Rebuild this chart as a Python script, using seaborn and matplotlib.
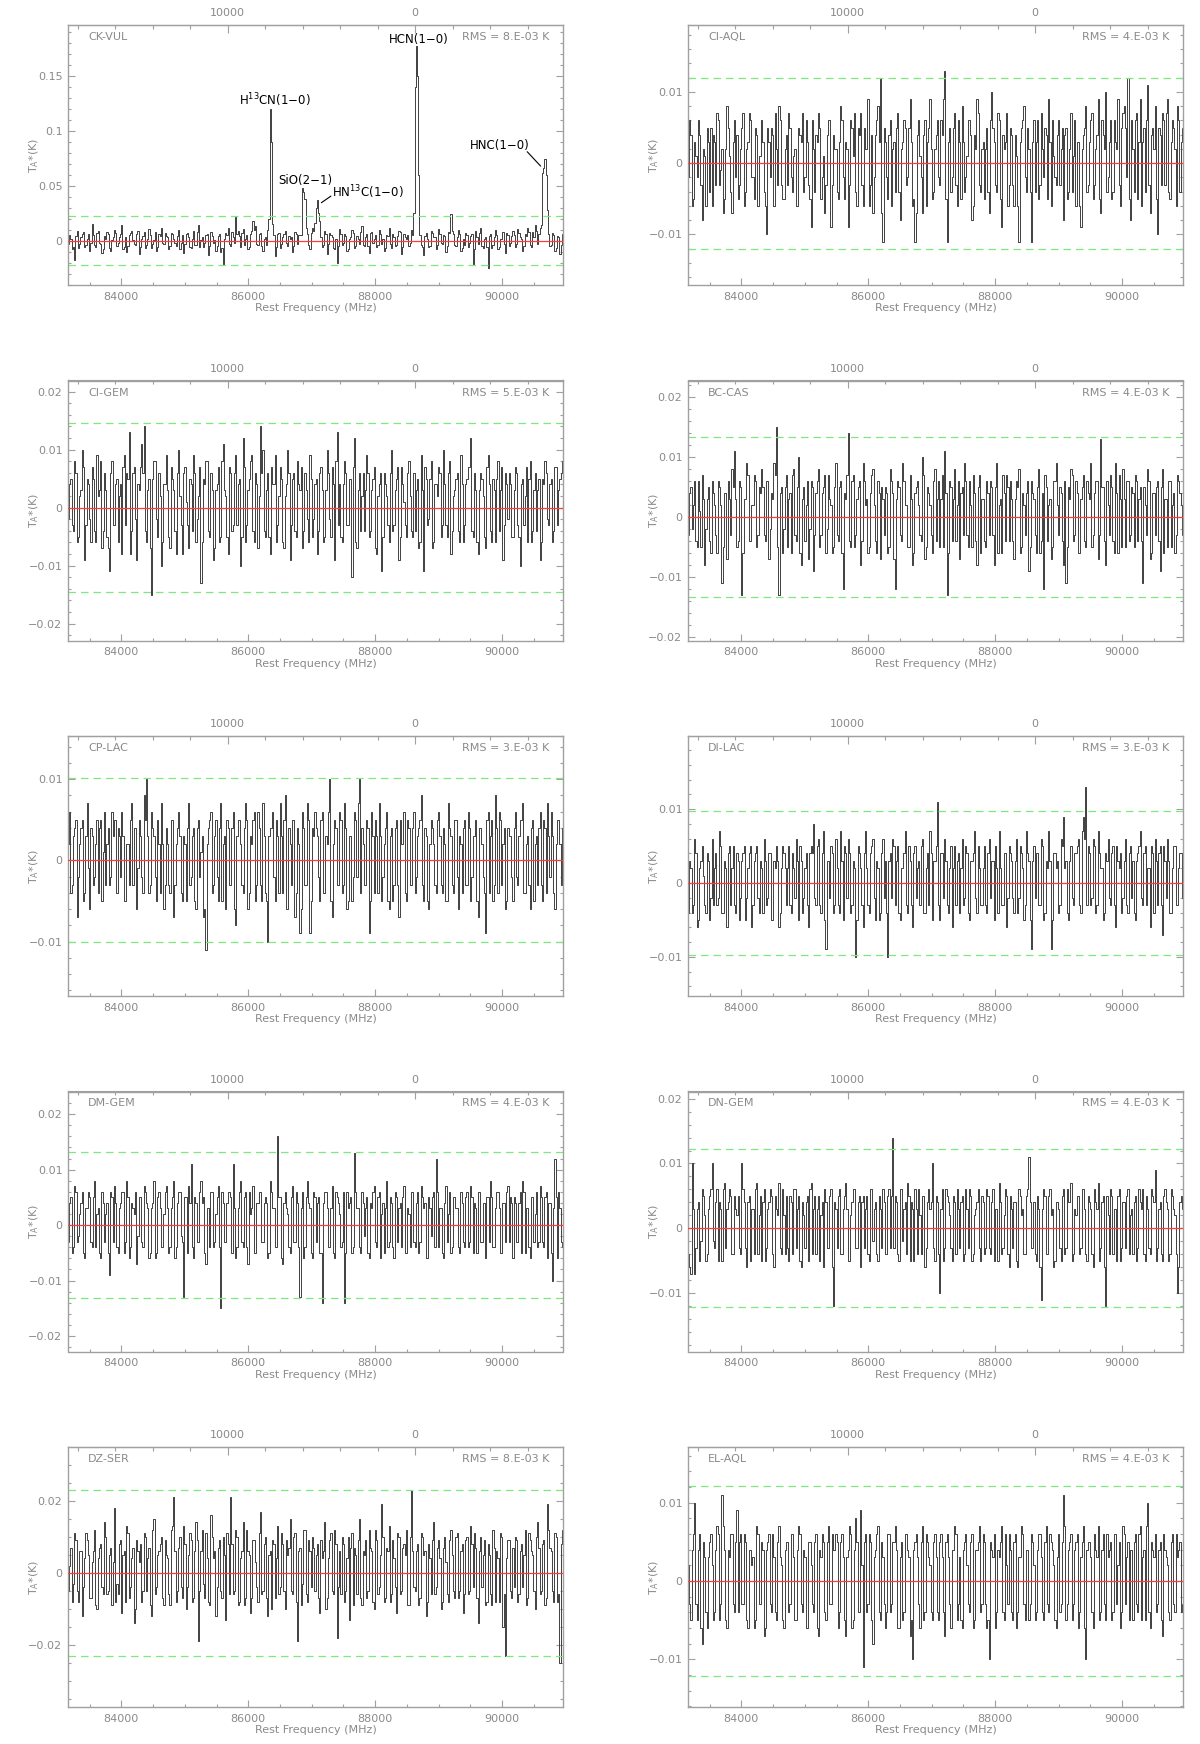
import numpy as np
import matplotlib
matplotlib.use("Agg")
import matplotlib.pyplot as plt
from matplotlib.ticker import MultipleLocator, FixedLocator, FuncFormatter
import seaborn as sns

# channel grid (MHz) and reference line for the velocity axis
F_START = 83170.0
CHAN_WIDTH = 19.5
F_HCN = 88631.6
C_KMS = 299792.458

# antenna temperature per channel, in mK, 20 channels per row
ck_vul_mk = [
    -3, 5, 2, -8, -6, -18, 4, 9, -7, -3, 3, 6, 8, -6, -4, 2, 6, -9, -2, 15,
    5, -4, -6, 7, 9, -2, -3, -11, -8, 4, 2, 8, 6, -7, -9, 1, 3, 10, 7, -5,
    -2, 3, 6, 14, -8, -6, 3, -10, -5, 5, 7, 9, 1, -3, -4, 6, 9, -12, -6, 2,
    4, 8, -7, -4, 2, 11, 5, -7, -3, 1, 8, -9, -6, 6, 4, 12, -2, -3, 7, 4,
    3, -8, -5, 7, 6, 2, -2, -5, 4, 10, -8, -2, 5, -11, -3, 6, 7, 3, -6, -7,
    2, 9, -4, -4, 8, 14, -6, 1, 3, -6, -2, 5, 6, -13, -5, 8, 4, -2, 1, -9,
    -5, 4, 6, -10, -7, -22, 2, 7, 5, 12, -3, -5, 8, 3, -2, 22, 6, 9, 4, -6,
    7, 11, -4, 2, 5, -8, -6, 6, 9, 18, 10, 13, -3, -4, 6, 7, -5, -9, 2, 3,
    -4, 10, 20, 120, 90, 15, 5, -14, -6, 6, 7, -7, -3, 3, 6, 9, -2, -5, 4, 2,
    3, -10, -5, 8, 6, -3, 5, 5, 5, 48, 44, 38, 12, 6, -4, -8, 7, 12, 9, 16,
    30, 37, 25, 18, 3, -6, -4, 9, 6, -12, -3, 7, 5, 3, -7, -8, 2, -20, -5, 11,
    6, -4, -2, 6, 4, -9, -8, 2, 3, 10, 7, -7, -5, 4, 2, -3, 8, 13, -4, -5,
    3, 6, -5, -11, 7, 8, -2, 2, 5, -6, -4, 10, 6, -3, 2, -9, -7, 5, 4, 12,
    -3, -7, 6, 3, -5, -4, 4, 9, 8, -12, -6, 6, 3, 2, 5, -5, -2, 10, 5, 25,
    140, 178, 150, 60, 5, -4, -6, -13, 4, 7, 2, -6, -5, 9, 7, 3, 3, -8, -4, 11,
    6, -2, -3, 5, 4, -10, -5, 8, 7, 24, 9, 6, -4, -5, 3, 10, 6, -9, -7, 2,
    -4, 7, 5, -6, -2, 4, 6, -22, -8, 9, 3, -3, 7, 12, -5, -7, 2, 3, -6, -25,
    4, 6, -7, -4, 3, 10, 5, -8, -6, 2, 2, 8, -3, -11, 7, 5, -5, -2, 4, 9,
    5, -6, -3, 11, 7, 3, 2, -9, -5, 6, 4, 12, 8, -4, -6, 8, 3, 14, 9, -3,
    6, 12, 14, 62, 66, 75, 60, 28, 6, -5, -4, 7, 5, -9, -7, 4, 3, -12, -4, 6]

ci_aql_mk = [
    -2, 6, 4, -6, -5, 3, 1, -2, 6, 4, -3, -8, 2, 1, -6, 5, 3, -4, 5, -6,
    4, 3, -3, 7, 6, -3, -1, 2, -7, -5, 2, 8, 5, 1, -4, -7, 3, 6, -2, 4,
    -5, -3, 2, 5, 7, -6, -4, 2, 3, 7, 6, -2, -2, -5, 5, 4, -6, 1, 1, 6,
    3, -4, -6, -10, 5, 3, -2, 5, 4, -6, 7, 2, -3, 8, 6, -3, -5, -5, 2, 4,
    -3, 7, 5, -2, -4, 1, 2, -6, -6, 5, 4, 3, 7, -4, -2, 6, 3, -3, -5, -9,
    6, 2, -4, 4, 3, 7, 5, -5, -2, 1, -7, -3, 4, 6, 6, -9, -3, 4, 2, 2,
    -4, -5, 3, 8, 6, -2, -5, 3, 2, -9, -3, 6, 5, 1, 7, -4, -6, 5, 4, 7,
    -3, -6, 5, 2, 2, 9, -6, -3, 4, -7, -2, 4, 6, 8, 3, 12, -7, -11, 5, 3,
    -2, -5, 4, 6, -6, 2, 3, -4, 5, 7, -4, -8, 2, 3, 6, 5, -3, -2, 5, 9,
    3, -6, -5, -11, -7, 4, 6, 1, -2, -7, 4, 6, -6, 3, 5, 9, 2, -5, -4, 2,
    4, 6, -2, -3, 6, 4, 9, 13, -5, -11, 3, 5, -4, -2, 5, 7, -3, -6, 6, 3,
    -5, 8, 3, -4, -2, 1, 6, 6, 4, -8, -6, 4, 2, 9, 7, -3, -4, 2, 3, -5,
    2, 5, -4, -7, 6, 10, 5, 3, -3, -4, 7, 6, -5, -9, 4, 2, 3, 7, -6, -3,
    5, 4, -3, -6, 4, 1, -6, -11, 3, 5, 6, 8, -2, -4, 5, 2, -4, -11, 3, 6,
    -4, 3, 6, -5, -3, 7, 2, -2, 5, 4, -5, 9, 3, -6, 6, 1, -2, -3, 4, 6,
    -3, 2, 5, -8, 4, 5, -5, -4, 2, 7, -4, 1, 6, -6, 3, 3, -6, -9, 2, 4,
    5, 8, -4, -3, 3, 6, 7, -5, -3, 2, 4, 9, -5, -7, 6, 4, 2, 10, -4, -2,
    3, 6, -5, -4, 6, 3, 2, 9, -3, -6, 5, 7, 8, 5, -2, 12, -5, -8, 6, 2,
    -4, 6, 7, -5, 3, 9, -6, 3, 5, -4, 6, 11, -3, -7, 4, 5, 2, 8, -5, -10,
    5, 4, -3, 7, 6, -3, 7, 9, -4, -5, 3, 6, 5, 2, -6, 8, 6, -4, 3, 5]

ci_gem_mk = [
    -2, 4, 5, -3, -4, 8, 6, -6, -5, 2, 3, 10, 7, -9, -3, 5, 4, -2, -6, 7,
    5, -4, -6, 9, 2, 3, 8, -7, -4, 6, 3, -5, -7, -11, 6, 8, -3, -3, 4, 5,
    -6, 2, 4, -8, 7, 9, -3, 6, 5, 13, -8, -4, 6, 7, -2, -9, 4, 3, 7, 11,
    6, 14, -4, -6, 3, 5, -7, -15, 5, 8, 8, -2, -5, 6, 2, -10, -6, 4, 4, 9,
    3, -5, -7, 7, 5, 3, -4, -8, 6, 10, 2, -3, -8, 6, 7, 1, -3, -7, 5, 4,
    -4, 9, 6, -6, -2, 2, 7, -13, -6, 5, 4, 8, 8, -4, -5, 6, 3, -9, -7, 3,
    4, 7, -6, -5, 8, 11, 3, 2, -5, -8, 7, 6, -4, -3, 6, 9, -3, 4, 5, -10,
    -5, 12, 7, -6, -3, 3, 5, 8, 9, -4, -6, 6, 4, -7, 2, 14, 6, 10, -4, -5,
    3, 6, -5, -8, 7, 4, 4, 9, -6, -3, 2, 7, 5, -6, -7, 2, 4, 10, 6, -9,
    -3, 5, 6, -4, -5, 8, 4, 3, 7, -7, -4, 6, 3, -2, -6, 9, 5, -5, -2, 4,
    5, -8, -4, 6, 7, 3, -6, -5, 3, 10, 6, -2, -5, 7, 4, -9, 8, 13, -3, 4,
    -5, -6, 4, 8, 6, -3, -3, 5, 5, -12, 7, 12, -6, -7, 3, 6, -4, 2, 6, -4,
    3, 9, 6, -5, -4, 3, 5, 7, -7, -8, 2, 4, 6, -11, -5, 6, 4, 2, -3, -6,
    6, 10, -4, -3, 3, 5, 7, -9, -5, 7, 4, 1, -3, -5, 6, 8, 2, -4, -5, 6,
    -4, 3, 5, -7, -6, 9, 3, -11, 7, 5, -3, -2, 5, 8, -7, -6, 4, 4, 2, 7,
    6, -5, -3, 10, 4, -3, -5, 6, 8, -8, -4, 2, 3, 5, 6, -4, -6, 9, 4, -6,
    -3, 4, 5, 7, 7, 12, -4, -5, 6, 3, -6, -8, 3, 6, 5, 2, -5, -7, 7, 9,
    4, -4, -6, 5, 3, -6, 5, 8, -4, 3, 7, -9, -3, 6, 4, -2, 6, 4, -5, -5,
    3, 7, 6, -3, -5, -10, 4, 5, -3, 2, 7, -6, 5, 8, -6, -4, 3, 6, -4, 3,
    5, -9, -6, 5, 4, 8, 6, -2, -3, 4, 5, -6, -4, 7, 7, -3, 3, 5, 6, 8]

bc_cas_mk = [
    -3, 4, 5, -2, 2, 6, -4, -5, 6, 1, -5, 7, 3, -8, -2, 3, 5, -4, -6, 6,
    4, 2, -3, -6, 6, 5, 2, -11, -5, 4, 4, -7, 6, 3, -3, 8, 5, 11, 3, -5,
    -4, 6, 5, -13, -6, 3, 3, 9, 7, -4, -4, 2, 2, 7, 6, -5, -3, 5, 4, 8,
    5, -3, -4, 6, 6, -7, -2, 4, 3, 9, 7, 15, -5, -13, 4, 5, -6, -2, 5, 7,
    -5, 3, 4, -6, 7, 8, -3, -4, 5, 10, -6, -8, 3, 5, -4, 2, 6, -7, -2, 6,
    5, -9, -3, 4, 6, 8, -5, -3, 4, 5, 7, -6, -2, 7, 3, 2, -6, -5, 5, 9,
    -3, -4, 5, 6, -6, -12, 4, 3, 7, 14, -4, -5, 6, 7, -5, -3, 3, 5, 6, -8,
    -4, 9, 6, 2, 3, -6, -5, 4, 7, 8, 2, -4, -6, 6, 4, -7, 5, 3, -3, 5,
    4, -6, -5, 8, 6, 4, -7, -12, 3, 6, 5, -3, -4, 9, 6, 2, 2, -5, -5, 7,
    3, -8, -6, 4, 5, 6, 2, -3, -4, 10, 7, -7, -5, 5, 4, 2, -3, -6, 6, 8,
    -4, 3, 6, -5, 3, 7, -5, 11, 4, -13, -6, 6, 5, -4, 3, 8, -4, 2, 6, -7,
    4, 5, -3, 9, 6, -3, -5, 6, 2, -5, 7, 4, -4, -8, 5, 7, -6, 3, 3, -4,
    -5, 6, 4, -3, 6, 5, -3, -8, 5, 9, -6, 2, 3, -6, 7, 4, -4, 7, 5, -4,
    6, 3, -4, -7, 3, 6, 5, 8, -6, -5, 4, 2, -3, 4, 6, -9, -5, 6, 4, 3,
    -3, -6, 5, 8, -6, -4, 4, -12, 7, 5, -4, 2, 3, -7, -5, 6, 6, 9, 2, -3,
    5, 4, -4, -8, 6, -11, -5, 5, 3, 8, 7, -4, -3, 6, 4, -6, -6, 3, 5, 7,
    -4, -5, 6, 4, 3, 9, -5, -3, 4, 6, 6, -7, -3, 13, 5, 5, -4, -8, 6, 2,
    -3, 7, 5, -4, -6, 9, 4, -6, 7, 3, -5, 8, 3, -5, 6, 6, -4, -3, 5, 4,
    -5, 7, 6, -4, 3, 5, -4, -11, 5, 2, -3, 8, 6, -7, -6, 4, 4, -3, 5, 6,
    -4, -9, 5, 8, -6, 3, 3, -5, 6, 6, -5, 2, 4, -6, -3, 7, 6, 4, 2, -3]

cp_lac_mk = [
    2, 6, -4, -3, 3, 4, 5, -7, -2, 2, 4, 5, -5, -4, 3, 7, -1, -6, 4, 3,
    -3, -2, 2, 5, -4, 4, 5, -5, 1, 6, -3, 2, 4, -3, -2, 6, 3, 5, 5, -4,
    4, 3, -2, 6, 3, -5, -5, 2, 2, -3, 5, 7, -3, 4, 4, -6, -1, 5, 3, -2,
    -4, 8, 5, 10, 3, -4, -3, 6, 4, 3, -2, -5, 5, 2, -4, 7, 2, -6, -3, 4,
    2, -3, -4, 5, 5, -7, -3, 2, 4, 6, 3, -4, -5, 3, 2, -5, 4, 7, -3, -2,
    3, 4, -5, -6, 4, 5, -2, 1, 3, -7, -6, -11, 2, 4, 5, 6, -4, -3, 3, 5,
    -2, -5, 4, 7, -5, 2, 3, -6, 5, 4, -3, -3, 4, 6, -6, -8, 3, 5, 5, 2,
    -3, -4, 4, 7, 5, -6, -4, 3, 2, 5, 6, -5, -3, 6, 4, -3, -5, 7, 3, -4,
    -5, -10, 3, 4, 4, 6, -2, -5, 5, 3, -4, 7, 3, -4, 5, 8, -6, -6, 4, 2,
    -3, 5, 5, -7, -4, 4, 2, -9, -6, 6, 4, -3, -3, 7, 5, -9, -5, 4, 3, 6,
    4, 3, -2, -5, 5, 6, -4, -4, 3, 2, 6, 10, -5, -7, 2, 5, 4, -3, -3, 6,
    5, -4, -3, 7, 4, -6, -5, 3, 3, -5, -2, 6, 5, -2, 7, 10, -4, 4, 2, -3,
    -3, 5, 4, -9, -5, 6, 3, -4, 5, 3, -4, 7, 3, -5, -2, 2, 4, 6, -5, -6,
    3, 4, -5, -3, 4, 5, -3, -7, 5, 2, 2, 6, -4, -5, 5, 4, -3, -3, 4, 6,
    -4, -2, 3, 4, 5, 8, -3, -5, 4, 3, -5, -6, 2, 5, 4, 2, -3, -4, 5, 6,
    3, -3, -4, 4, 2, -5, -5, 7, 4, 3, -3, -4, 5, 5, -2, -6, 3, 2, -4, 4,
    5, -3, -3, 6, 4, -5, -2, 3, 3, 5, -5, -7, 4, 4, 2, -2, -4, -9, 5, 6,
    -4, 3, 5, -5, -3, 8, 4, -4, 6, 5, -3, 2, 4, -6, -5, 4, 3, 3, -2, -5,
    4, 6, -2, -3, 3, 5, 5, 7, -4, -4, 2, 3, -3, -6, 4, 5, -5, 2, 3, -3,
    4, 6, -3, -5, 5, 4, -4, 7, 3, -2, 6, 3, -4, -6, 2, 5, 5, 2, -3, 4]

di_lac_mk = [
    -4, 3, 2, -4, -3, 6, 4, -6, -5, 2, 3, 5, 1, -3, -4, 4, 3, -5, -2, 6,
    -3, 2, 4, -3, -2, 7, 5, -4, -4, 3, 2, -6, 4, 5, -3, 2, 5, -3, -4, 4,
    3, -5, -2, 3, 4, 5, -5, -2, 2, 4, 5, -6, -3, 3, 4, 5, -2, -4, 3, 2,
    -4, 6, 3, -3, -2, 4, 4, -5, -5, 3, 2, 5, 3, -6, -4, 2, 5, 4, 2, -3,
    2, 5, -3, -4, 4, 2, -2, 6, 3, -5, 5, 3, -4, -2, 2, 4, -3, -6, 4, 5,
    4, 8, -2, -3, 5, 6, -3, -4, 4, 7, -5, -9, 3, 3, -2, 5, 4, -4, -3, 6,
    2, -3, -4, 7, 3, -5, 5, 4, -2, 6, 4, -4, -3, 3, 2, -10, -5, 5, 4, 2,
    -3, -6, 4, 7, 2, -3, -4, 4, 5, 6, -2, -5, 3, 2, -5, -4, 4, 6, -2, 3,
    -4, -10, 3, 4, -2, 6, 5, -3, 3, 5, -4, -5, 2, 2, 4, 7, -3, -4, 5, 3,
    -3, -6, 4, 5, -2, 2, 3, -3, 5, 6, -4, -4, 2, 4, -3, 7, 4, -5, 3, 3,
    5, 11, -3, -5, 4, 4, -2, 6, 3, -3, -4, 2, 5, -6, 2, 5, -3, 3, 4, -4,
    2, 6, -3, -2, 5, 4, -4, -5, 3, 3, 4, 7, -2, -4, 5, 2, -3, -3, 2, 5,
    -3, -4, 4, 6, -2, 3, 3, -5, 5, 2, -4, 7, 2, -3, -3, 4, 4, -6, -2, 5,
    4, 3, -2, -4, 3, 6, -4, -2, 5, 4, 2, -5, -3, 7, 4, 3, -5, -9, 3, 5,
    -2, 4, 4, -3, -3, 6, 5, -5, -4, 3, 2, 7, 3, -9, -5, 4, 4, 2, 3, -4,
    -3, 6, 5, 9, 2, 3, -4, -5, 3, 5, -2, -3, 4, 4, 5, 6, -3, -4, 7, 9,
    6, 13, -3, 5, 4, -3, -2, 6, 5, -4, -3, 7, 4, 2, 2, -5, -4, 4, 3, 6,
    -2, -3, 4, 5, -3, -6, 5, 3, 2, 4, -4, -2, 3, 6, -3, -4, 4, 5, -2, 3,
    -4, -5, 3, 4, 5, 7, -2, -3, 4, 5, -3, 2, 2, -6, 5, 4, -4, 6, 3, -3,
    4, 5, -3, -7, 5, 3, -2, 6, 3, -4, -4, 2, 5, 5, -3, -3, 2, 4, 4, -2]

dm_gem_mk = [
    -3, 4, 5, -5, -4, 7, 6, -3, -2, 2, 4, 6, -5, -6, 3, 3, 6, 5, -3, -4,
    5, 8, -4, 2, 3, -5, -6, 6, 4, -3, 2, 4, -5, -9, 6, 5, -3, 7, 4, -4,
    -5, 3, 4, 6, 6, -5, -3, 8, 5, -6, -4, 4, 3, 2, 6, -7, -2, 5, 5, -3,
    -4, 7, 6, 4, 3, -6, -5, 3, 4, 8, -6, -5, 5, 6, 3, -4, -4, 2, 6, 7,
    3, -5, -4, 3, 5, 8, -6, -4, 4, 6, 6, -2, -3, -13, 5, 5, -5, 7, 4, 11,
    -4, -6, 5, 4, -3, -3, 6, 8, 4, 5, -5, -7, 3, 3, -4, 6, 6, -4, -3, 2,
    5, 7, -4, -15, 6, 4, -3, -3, 4, 6, 6, 5, -5, 11, 3, -6, -4, 3, 6, 8,
    -3, -4, 5, 6, -4, -7, 6, 2, 3, 7, -5, -5, 4, 4, 6, 6, -3, -3, 4, 5,
    4, -6, -5, 8, 6, 3, 3, -4, -4, 16, 5, 5, -6, -7, 4, 6, 3, 2, -4, -5,
    5, 7, -3, -3, 6, 4, -4, -13, 3, 6, -6, -4, 5, 8, 4, 3, -5, -6, 6, 5,
    -3, 4, 5, -5, -5, -14, 4, 6, 6, 3, -4, -4, 3, 7, -5, -6, 6, 5, 4, 2,
    -4, -3, 6, -14, -5, 6, 3, 4, 5, -5, -4, 13, 6, 3, 3, -4, -5, 6, 4, -2,
    3, 5, -5, -6, 4, 3, 6, 7, -3, -4, 5, 6, -6, 2, 4, -5, 3, 8, -4, -3,
    5, 4, -4, -6, 6, 5, -3, 3, 4, -4, 5, 7, -5, -5, 3, 2, -4, 6, 6, -3,
    -4, 4, 6, -5, -3, 7, 5, 3, 4, -6, -6, 5, 3, -2, 5, 6, -4, 12, 6, -4,
    3, 3, -5, -6, 4, 7, -3, 2, 6, -5, -4, 5, 5, 3, 3, -4, -5, 6, 4, -3,
    -4, 5, 6, -4, -3, 7, 5, -5, 4, 3, -5, 6, 6, -3, -3, 4, 4, -6, 5, 5,
    -3, 8, 5, -4, -4, 3, 6, 6, 3, -5, -5, 4, 4, -3, 6, 7, -3, 5, 4, -6,
    5, 4, -3, -3, 4, 6, -5, 8, 6, -5, 3, 3, -4, -6, 5, 5, -3, 2, 6, -4,
    -3, 7, 5, -3, -4, 5, 6, -6, 4, 4, -5, -10, 3, 12, 5, -6, 6, 3, -3, -4]

dn_gem_mk = [
    -4, -6, -7, 10, 3, -7, -3, 3, 4, -5, -2, 6, 5, 2, -5, -4, 3, 5, 6, 10,
    -2, -3, 4, 6, -5, 4, 3, -5, 6, 7, -3, 3, 4, 6, 5, -4, -4, 5, 3, 2,
    5, -3, -4, 10, 6, 4, -3, -6, 4, 5, -5, 3, 3, -4, 6, 7, -4, 2, 5, -5,
    4, 6, -5, -3, 3, 4, 6, 5, -4, -6, 5, 3, 2, 7, -3, -4, 6, 2, -4, 5,
    -3, -5, 5, 4, -4, 6, 6, -3, 3, 5, -5, -6, 4, 2, -3, 4, 5, -5, 6, 7,
    -4, 3, 5, -4, 3, 5, -5, 2, 4, -6, 6, 4, -3, -3, 5, 6, -6, -12, 4, 3,
    -3, 5, 6, -4, -4, 3, 5, 7, 3, -5, -5, 2, 4, 6, 6, -3, -3, 4, 5, -6,
    4, 5, -3, 3, 5, -4, -5, 6, 6, -2, 3, 4, -4, -5, 5, 3, -3, 6, 4, -4,
    -4, 5, 6, -3, 5, 14, -3, 5, 4, -4, -5, 6, 6, -2, 3, 4, -4, 7, 5, -5,
    4, 3, -5, 6, 3, -4, 6, 2, -4, 5, 5, -6, -3, 4, 6, 3, 4, 10, -3, -5,
    5, 4, -4, -10, 3, 6, -5, -3, 6, 5, 4, 2, -3, -5, 5, 4, -4, 6, 3, -3,
    4, 5, -5, -4, 6, 3, -3, 6, 5, -5, -4, 2, 3, 4, 6, -3, -5, 5, 4, -4,
    -3, 6, 5, -3, -4, 4, 6, -5, 3, 3, -5, 7, 4, -4, -3, 2, 6, 5, -4, -6,
    5, 3, -3, 4, 4, -5, -6, 6, 5, 2, 3, -4, -4, 5, 6, 11, 4, -3, -3, 4,
    -4, -5, 5, 3, -6, -11, 3, 6, 5, -4, -4, 5, 6, 2, 3, -6, -5, 4, 4, 3,
    -3, -5, 5, 6, -4, -3, 6, 4, 4, 7, -5, -4, 3, 2, 5, 5, -4, -3, 6, 6,
    3, -4, -5, 5, 4, 3, -4, -6, 6, 4, 3, 7, -5, -3, 4, 5, -6, -12, 5, 2,
    -4, 6, 5, -4, 3, 3, -5, 5, 6, -5, -3, 4, 4, -3, 5, 6, -4, 2, 3, -4,
    4, 5, -5, -3, 6, 4, 3, 6, -4, -5, 5, 3, -3, -4, 6, 5, 4, 9, -5, -3,
    3, 4, -4, -5, 5, 6, 4, 3, -5, -4, 6, 5, 3, 2, -4, -10, -6, 4, 5, 3]

dz_ser_mk = [
    -5, 2, 7, -8, -3, 11, 9, -5, -8, 6, 6, -12, -4, 4, 11, 9, 5, -7, -7, 3,
    6, 12, -9, -10, 4, 7, 8, -4, -6, 14, 10, -6, -5, 5, 7, -9, 3, 18, -8, -3,
    -6, 8, 9, -11, 5, 6, -8, 13, 11, -7, -4, 4, 7, -14, -10, 9, 6, 3, 8, -8,
    -5, 11, 10, -5, 4, 7, -9, -12, 12, 15, -6, -4, 5, 6, 8, 10, -7, -9, 9, 5,
    4, -6, -9, 12, 13, 21, 6, -8, -5, 7, 10, -4, -7, 13, 8, -10, -4, 5, 11, 9,
    -8, -7, 6, 14, 9, -19, -5, 6, 12, -3, -7, 11, 4, -8, -9, 16, 10, 4, 6, -12,
    -4, 7, 9, -5, -7, 10, 5, -13, 11, 8, -6, 21, 8, -6, -5, 12, 10, -9, -8, 4,
    6, 14, -9, -7, 12, 6, 5, -11, -7, 9, 9, 3, -4, -8, 11, 17, -6, -5, 8, 10,
    -7, -12, 5, 6, -10, 9, 8, -7, 4, 13, -6, -4, 11, 8, -5, -10, 9, 5, 7, 15,
    -5, -6, 10, 11, -8, -19, 6, 7, -9, -3, 12, 12, -6, -8, 9, 6, -4, 10, 7, -5,
    5, 8, -7, -11, 9, 4, 6, 14, -10, -7, 4, 9, 11, -5, -6, 12, 8, -18, -4, 6,
    -6, 10, 8, -8, -5, 4, 10, -13, 7, 11, -9, 7, 5, -6, 9, 15, -7, -9, 6, 5,
    9, -7, -5, 12, 7, 6, -8, -10, 12, 9, -6, -4, 5, 19, 10, -8, -7, 7, 6, 13,
    -8, -6, 9, 4, -4, -11, 11, 10, -6, -5, 7, 8, 5, 12, -9, -9, 10, 23, 6, -4,
    -5, 6, 8, -9, -7, 11, 10, 5, 6, -12, -8, 8, 4, -6, 9, 14, -6, -4, 7, 9,
    4, -10, -8, 7, 10, 3, -6, -8, 9, 12, 5, -5, -7, 10, 11, -7, -5, 6, 8, -11,
    -6, 9, 10, -6, -5, 13, 8, -4, 11, 7, -7, -14, 6, 10, -4, 5, 9, -9, -8, 8,
    5, -6, -9, 12, 7, -8, 6, 4, -8, 11, 10, -15, -6, -23, 4, 9, 9, -5, -7, 7,
    -4, 10, 9, -8, -6, 6, 8, -4, 5, 12, -9, -7, 11, 9, 6, 5, -5, -10, 10, 14,
    7, -6, -5, 8, 9, -9, -7, 19, 12, 7, 6, -5, -8, 11, 10, -8, -6, -25, 8, 12]

el_aql_mk = [
    2, -3, -5, 4, 6, 10, -3, -5, 4, 6, -6, -8, 5, 3, -4, -6, 3, 5, 6, 2,
    -5, -4, 4, 7, 6, -5, -3, 11, 7, 4, -5, -6, 4, 3, 6, 6, -3, -4, 5, 9,
    -4, 5, 6, -3, -3, 6, 5, -5, -6, 4, 4, 2, 3, -6, -5, 7, 6, -3, -3, 5,
    4, -7, -6, 4, 5, 6, -3, -4, 6, 3, -4, -5, 5, 7, 3, 2, -5, -6, 4, 5,
    5, -4, -3, 6, 6, 3, -5, -5, 4, 7, 6, -3, -4, 4, 3, -6, -6, 5, 5, 2,
    -3, -4, 5, 6, -6, -7, 4, 3, 6, 5, -4, -5, 5, 7, -3, -3, 6, 4, 4, 6,
    5, -6, -4, 5, 6, 3, -5, -7, 3, 4, 7, 6, -6, -5, 4, 8, 5, -4, -4, 9,
    2, -11, 5, 6, -4, -3, 6, 5, -5, -8, 3, 4, 6, 7, -4, -5, 5, 3, -3, -6,
    -4, 6, 6, -4, -3, 5, 5, 7, 4, -6, -6, 3, 5, -5, -4, 6, 6, 4, 3, -7,
    -5, -10, 4, 5, 6, 3, -3, -6, 5, 7, -5, -4, 6, 5, 3, 2, -4, -5, 5, 6,
    3, -4, -5, 5, 6, 3, -4, -7, 5, 6, 3, -3, -6, 4, 4, 7, 6, -5, -3, 3,
    -5, -6, 4, 5, 6, 2, -3, -4, 5, 6, -6, -5, 4, 4, 5, 7, -4, -3, 6, 5,
    -3, -6, -5, -10, 5, 4, 3, 6, -6, -4, 4, 3, 5, 7, -4, -5, 6, 2, -3, 6,
    4, -4, -5, 5, 6, -6, -4, 3, 3, 7, 6, -3, -5, 4, 4, -5, -3, 6, 5, 2,
    -5, -4, 4, 6, 6, 3, -4, -5, 5, 7, -3, -4, 6, 5, 4, 2, -5, -6, 3, 6,
    -4, -3, 5, 11, 7, -5, -3, 4, 5, 6, -5, -3, 4, 5, 6, -6, -4, 3, 5, 7,
    -6, -10, 4, 5, 5, 3, -4, -6, 6, 4, 3, 7, -5, -4, 4, 6, -3, -5, 6, 3,
    4, 5, -5, -4, 6, 6, -3, 2, 5, -6, -4, 7, 6, -3, 3, 5, -5, 4, 4, -5,
    5, 6, -3, -4, 6, 7, -5, 3, 4, -5, 7, 10, -4, -6, 5, 4, 3, 6, -4, -3,
    4, 5, -5, -7, 6, 4, 3, 2, -4, -5, 5, 6, -3, -4, 6, 3, 4, 5, -4, -3]

source_names = ["CK-VUL", "CI-AQL", "CI-GEM", "BC-CAS", "CP-LAC",
                "DI-LAC", "DM-GEM", "DN-GEM", "DZ-SER", "EL-AQL"]
spectra_mk = [ck_vul_mk, ci_aql_mk, ci_gem_mk, bc_cas_mk, cp_lac_mk,
              di_lac_mk, dm_gem_mk, dn_gem_mk, dz_ser_mk, el_aql_mk]
rms_labels = ["8.E-03", "4.E-03", "5.E-03", "4.E-03", "3.E-03",
              "3.E-03", "4.E-03", "4.E-03", "8.E-03", "4.E-03"]
three_sigma = [0.0225, 0.0120, 0.0146, 0.0133, 0.0101,
               0.0098, 0.0132, 0.0122, 0.0230, 0.0121]

# per-panel axis setup
y_limits = [(-0.0404, 0.1968), (-0.0171, 0.0194), (-0.0229, 0.0219), (-0.0206, 0.0227),
            (-0.0167, 0.0153), (-0.0153, 0.0199), (-0.0228, 0.0241), (-0.0190, 0.0211),
            (-0.0372, 0.0349), (-0.0161, 0.0171)]
y_major = [0.05, 0.01, 0.01, 0.01, 0.01, 0.01, 0.01, 0.01, 0.02, 0.01]
y_minor = [0.01, 0.002, 0.002, 0.002, 0.002, 0.002, 0.002, 0.002, 0.005, 0.002]
vel_major = [0, 10000]
vel_minor = list(range(-6000, 18001, 2000))

# line identifications in the CK-VUL panel
line_labels = ["H$^{13}$CN(1\u22120)", "SiO(2\u22121)", "HN$^{13}$C(1\u22120)",
               "HCN(1\u22120)", "HNC(1\u22120)"]
label_xy = [(86420, 0.1285), (86900, 0.0553), (87315, 0.0447), (88683, 0.1836), (89970, 0.0866)]
label_ha = ["center", "center", "left", "center", "center"]
connectors = [((87153, 0.0347), (87303, 0.0407)), ((90396, 0.0812), (90607, 0.0681))]

GREY = "#8a8a8a"
SPINE = "#a0a0a0"

sns.set_style("white")
plt.rcParams["font.family"] = ["DejaVu Sans"]
plt.rcParams["mathtext.default"] = "regular"


def fmt(v, pos):
    s = f"{round(v, 6) + 0.0:g}"
    return s.replace("-", "\u2212")


def f2v(f):
    return C_KMS * (1 - np.asarray(f) / F_HCN)


def v2f(v):
    return F_HCN * (1 - np.asarray(v) / C_KMS)


fig = plt.figure(figsize=(12, 17.44), dpi=100)
W, H = 1200.0, 1744.0
ax_w, ax_h = 495.0, 260.0
lefts = [68.0, 688.0]

for i, name in enumerate(source_names):
    row, col = divmod(i, 2)
    top = 25.0 + 355.5 * row
    ax = fig.add_axes([lefts[col] / W, 1 - (top + ax_h) / H, ax_w / W, ax_h / H])

    vals = np.array(spectra_mk[i]) / 1000.0
    freq = F_START + CHAN_WIDTH * np.arange(len(vals))
    sns.lineplot(x=freq, y=vals, ax=ax, estimator=None, drawstyle="steps-mid",
                 color="#404040", linewidth=0.7)

    ax.axhline(0, color="#ff3b3b", linewidth=0.9, zorder=3)
    for s in (three_sigma[i], -three_sigma[i]):
        ax.axhline(s, color="#7ee87e", linewidth=0.9, dashes=(6, 4))

    ax.set_xlim(83160, 90960)
    ax.set_ylim(*y_limits[i])
    ax.xaxis.set_major_locator(MultipleLocator(2000))
    ax.xaxis.set_minor_locator(MultipleLocator(500))
    ax.yaxis.set_major_locator(MultipleLocator(y_major[i]))
    ax.yaxis.set_minor_locator(MultipleLocator(y_minor[i]))
    ax.xaxis.set_major_formatter(FuncFormatter(fmt))
    ax.yaxis.set_major_formatter(FuncFormatter(fmt))
    ax.tick_params(which="both", direction="in", bottom=True, left=True, right=True,
                   top=False, color=SPINE, labelcolor=GREY, labelsize=8)
    ax.tick_params(which="major", length=5, width=0.8)
    ax.tick_params(which="minor", length=2.5, width=0.8)
    ax.tick_params(axis="x", pad=5)
    ax.tick_params(axis="y", pad=4)
    for sp in ax.spines.values():
        sp.set_color(SPINE)
        sp.set_linewidth(1.0)

    sec = ax.secondary_xaxis("top", functions=(f2v, v2f))
    sec.xaxis.set_major_locator(FixedLocator(vel_major))
    sec.xaxis.set_minor_locator(FixedLocator(vel_minor))
    sec.xaxis.set_major_formatter(FuncFormatter(fmt))
    sec.tick_params(which="both", direction="in", color=SPINE, labelcolor=GREY,
                    labelsize=8, pad=5, width=0.8)
    sec.tick_params(which="major", length=6)
    sec.tick_params(which="minor", length=3)
    sec.spines["top"].set_color(SPINE)

    ax.set_xlabel("Rest Frequency (MHz)", color=GREY, fontsize=8, labelpad=1)
    ax.set_ylabel("T$_{A}$*(K)", color=GREY, fontsize=8)
    ax.yaxis.set_label_coords(-27 / ax_w, 0.5)

    ax.text(20 / ax_w, 1 - 12 / ax_h, name, transform=ax.transAxes,
            color=GREY, fontsize=8, ha="left", va="center")
    ax.text(1 - 14 / ax_w, 1 - 12 / ax_h, f"RMS = {rms_labels[i]} K",
            transform=ax.transAxes, color=GREY, fontsize=8, ha="right", va="center")

    if i == 0:
        for lab, (lx, ly), ha in zip(line_labels, label_xy, label_ha):
            ax.text(lx, ly, lab, color="black", fontsize=8.5, ha=ha, va="center")
        for (x0, y0), (x1, y1) in connectors:
            ax.plot([x0, x1], [y0, y1], color="black", linewidth=0.8)

fig.savefig("out.png", dpi=100)
